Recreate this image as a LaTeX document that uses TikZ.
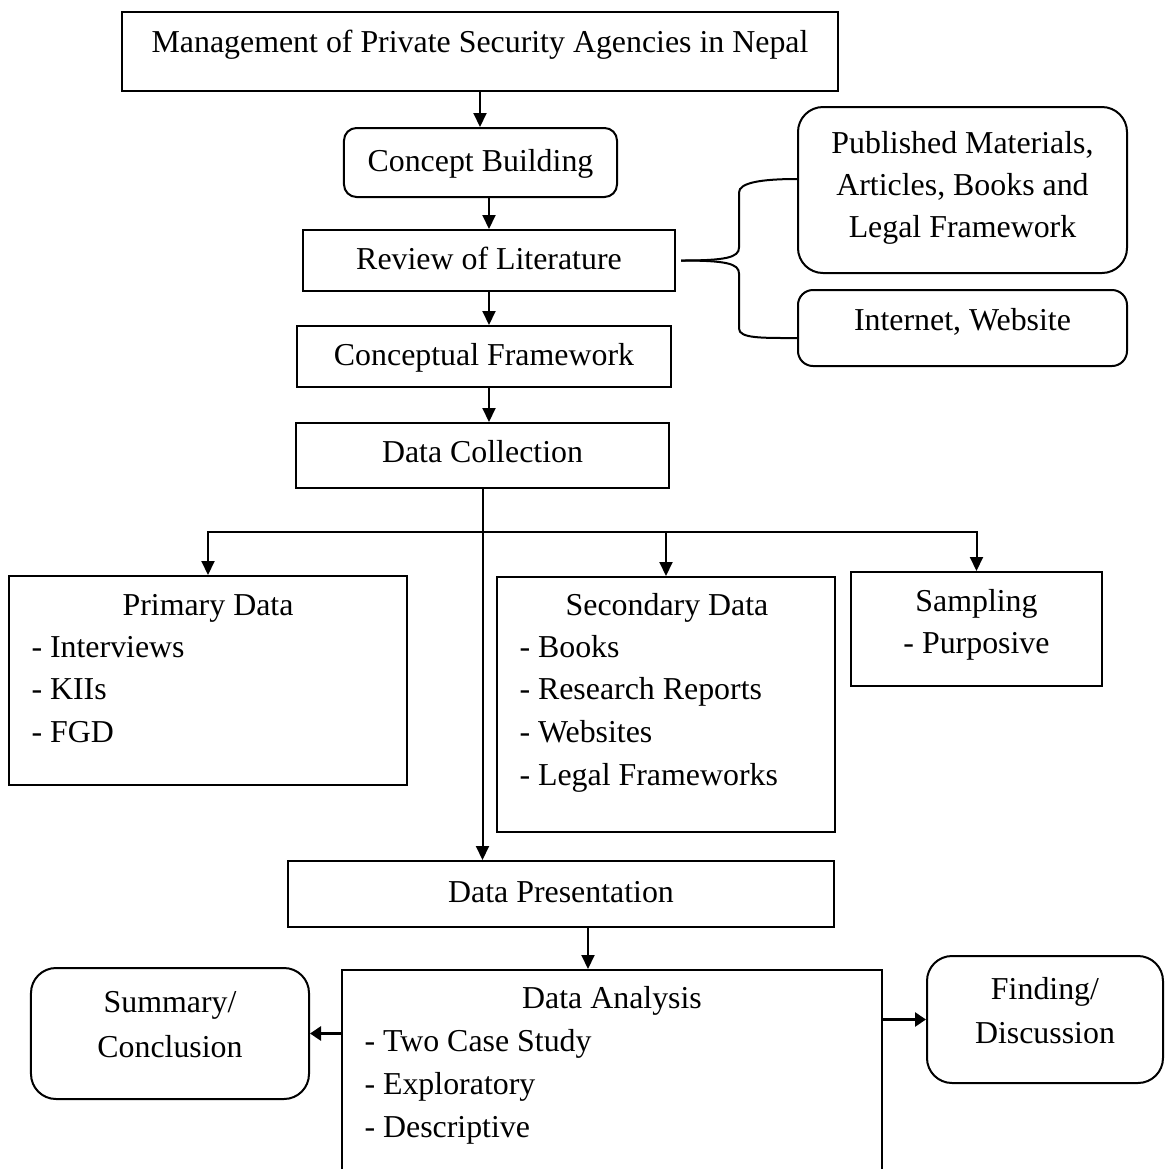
\documentclass[tikz,border=0pt]{standalone}
\usepackage{fontspec}
\setmainfont{Liberation Serif}
\usetikzlibrary{arrows.meta}

\begin{document}
\begin{tikzpicture}[
  x=0.4pt, y=-0.4pt,
  font=\fontsize{12.75}{16.8}\selectfont,
  >={Triangle[length=5.6pt,width=5.2pt]},
  box/.style  ={draw, line width=0.8pt, inner xsep=0pt, inner ysep=0pt, align=center},
  rbox/.style ={box, rounded corners=#1},
  txt/.style  ={inner sep=0pt, anchor=base},
  item/.style ={inner sep=0pt, anchor=base west},
  flow/.style ={->, line width=0.8pt},
  bflow/.style={-{Triangle[length=4.4pt,width=5.6pt]}, line width=1.4pt},
  brace/.style={line width=0.8pt},
]
\useasboundingbox (0,0) rectangle (1165,1169);

% Main column -- single-line boxes, text sits on a fixed baseline.
\node[box, minimum width=286.4pt, text height=16pt, text depth=15.6pt] (title) at (480,51.5)
  {Management of Private Security Agencies in Nepal};
\node[rbox=5pt, minimum width=109.2pt, text height=17.2pt, text depth=10.4pt] (concept) at (480.5,162.5)
  {Concept Building};
\node[box, minimum width=148.8pt, text height=15.6pt, text depth=8.8pt] (revlit) at (489,260.5)
  {Review of Literature};
\node[box, minimum width=149.6pt, text height=15.6pt, text depth=8.8pt] (cfw) at (484,356.5)
  {Conceptual Framework};
\node[box, minimum width=149.2pt, text height=15.6pt, text depth=10.4pt] (dcol) at (482.5,455.5)
  {Data Collection};
\node[box, minimum width=218.4pt, text height=16.4pt, text depth=10pt] (dpres) at (561,894)
  {Data Presentation};

% Literature sources on the right.
\node[rbox=10pt, minimum width=131.6pt, minimum height=66.4pt] (pubmat) at (962.5,190) {};
\foreach \t [count=\i from 0] in {{Published Materials,}, {Articles, Books and}, {Legal Framework}}
  \node[txt] (pubmat-\i) at (962.5,153+42*\i) {\t};
\node[rbox=6pt, minimum width=131.6pt, text height=16pt, text depth=14.4pt] (inet) at (962.5,328)
  {Internet, Website};

% Data collection branches.
\node[box, minimum width=159.2pt, minimum height=83.6pt] (prim) at (208,680.5) {};
\node[txt] (prim-h) at (208,615) {Primary Data};
\foreach \t [count=\i from 0] in {Interviews, KIIs, FGD}
  \node[item] (prim-\i) at (31,657+42.5*\i) {- \t};

\node[box, minimum width=135.2pt, minimum height=102pt] (sec) at (666,704.5) {};
\node[txt] (sec-h) at (667,615) {Secondary Data};
\foreach \t [count=\i from 0] in {Books, Research Reports, Websites, Legal Frameworks}
  \node[item] (sec-\i) at (519,657+42.7*\i) {- \t};

\node[box, minimum width=100.4pt, minimum height=45.6pt] (samp) at (976.5,629) {};
\node[txt] (samp-h) at (976.5,611) {Sampling};
\node[txt] (samp-0) at (976.5,653) {- Purposive};

% Analysis row -- analysis box runs past the lower edge.
\node[box, minimum width=216pt, minimum height=104pt] (ana) at (612,1100) {};
\node[txt] (ana-h) at (612,1008) {Data Analysis};
\foreach \t [count=\i from 0] in {Two Case Study, Exploratory, Descriptive}
  \node[item] (ana-\i) at (364,1051+43*\i) {- \t};

\node[rbox=10pt, minimum width=111.2pt, minimum height=52.4pt] (summ) at (170,1033.5) {};
\node[txt] (summ-0) at (170,1012) {Summary/};
\node[txt] (summ-1) at (170,1057) {Conclusion};

\node[rbox=10pt, minimum width=94.4pt, minimum height=50.8pt] (find) at (1045,1019.5) {};
\node[txt] (find-0) at (1045,999) {Finding/};
\node[txt] (find-1) at (1045,1043) {Discussion};

% Arrows down the main column.
\draw[flow] (title.south) -- (title.south |- concept.north);
\draw[flow] (concept.south -| revlit.north) -- (revlit.north);
\draw[flow] (revlit.south) -- (revlit.south |- cfw.north);
\draw[flow] (cfw.south -| revlit.south) -- (revlit.south |- dcol.north);
\draw[flow] (dcol.south) -- (dcol.south |- dpres.north);
\draw[flow] ([xshift=10.8pt]dpres.south) -- ([xshift=10.8pt]dpres.south |- ana.north);

% Split bar under data collection.
\coordinate (split) at ([yshift=-17.2pt]dcol.south);
\draw[flow] (split) -| (prim.north);
\draw[flow] (split) -| (sec.north);
\draw[flow] (split) -| (samp.north);

% Curly brace to the sources.
\draw[brace] ([xshift=2pt]revlit.east) .. controls +(45,0) and +(0,10) .. ++(58,-13)
  -- ++(0,-55) .. controls +(0,-10) and +(-35,0) .. ([yshift=4.4pt]pubmat.west);
\draw[brace] ([xshift=2pt]revlit.east) .. controls +(45,0) and +(0,-10) .. ++(58,13)
  -- ++(0,55) .. controls +(0,10) and +(-35,0) .. ([yshift=-4pt]inet.west);

% Side outputs of the analysis.
\draw[bflow] (ana.west |- summ.east) -- (summ.east);
\draw[bflow] (ana.east |- find.west) -- (find.west);
\end{tikzpicture}
\end{document}
